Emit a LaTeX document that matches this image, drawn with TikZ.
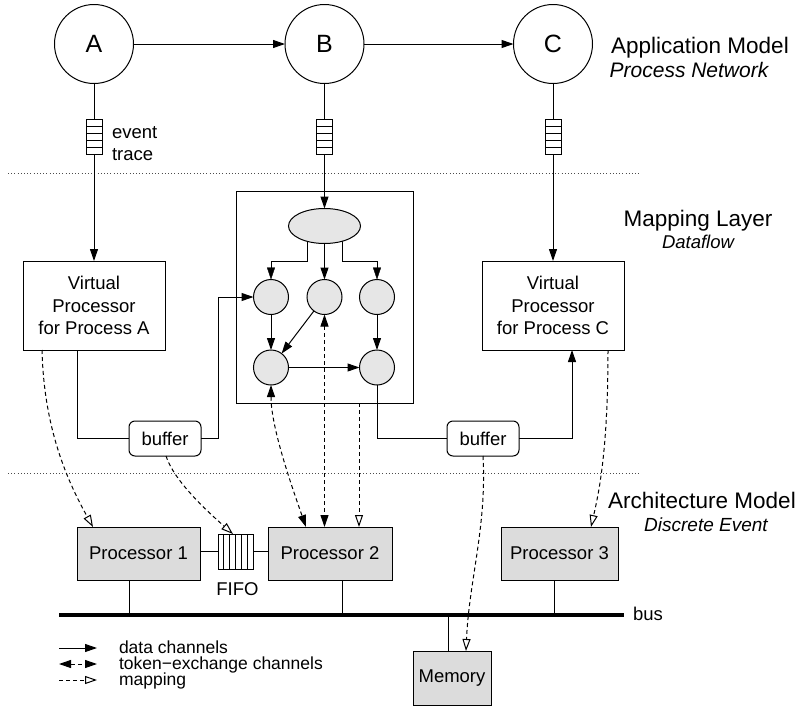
\documentclass[tikz,border=0pt]{standalone}
\usepackage{fontspec}
\setmainfont{Liberation Sans}
\usetikzlibrary{arrows.meta,shapes.geometric,backgrounds}
\definecolor{hwgray}{HTML}{DCDCDC}
\definecolor{actgray}{HTML}{E6E6E6}
\begin{document}
\begin{tikzpicture}[x=1pt,y=-1pt,line width=1pt,
  every node/.style={inner sep=0pt,outer sep=0pt},
  lbl/.style={font=\fontsize{18.5}{22.5}\selectfont},
  leg/.style={font=\fontsize{17.5}{20}\selectfont},
  big/.style={font=\fontsize{22.5}{26}\selectfont},
  proc/.style={circle,draw,fill=white,minimum size=79pt,font=\fontsize{25}{30}\selectfont},
  queue/.style={draw,fill=white,minimum width=16pt,minimum height=35pt,
    path picture={\foreach \i in {1,...,4}{\draw[line width=0.8pt] ([yshift=-\i*7pt]path picture bounding box.north west) -- ([yshift=-\i*7pt]path picture bounding box.north east);}}},
  fifobox/.style={draw,fill=white,minimum width=35pt,minimum height=35pt,
    path picture={\foreach \i in {1,...,5}{\draw[line width=0.8pt] ([xshift=\i*5.8333pt]path picture bounding box.north west) -- ([xshift=\i*5.8333pt]path picture bounding box.south west);}}},
  vp/.style={draw,fill=white,minimum width=142pt,minimum height=89pt,align=center,lbl},
  buf/.style={draw,fill=white,rounded corners=6pt,minimum width=72pt,minimum height=35pt,lbl},
  hw/.style={draw,fill=hwgray,minimum height=53pt,lbl},
  act/.style={circle,draw,fill=actgray,minimum size=35pt},
  dat/.style={-{Triangle[length=12pt,width=8pt]}},
  tok/.style={dash pattern=on 4pt off 3pt,{Triangle[length=12pt,width=8pt]}-{Triangle[length=12pt,width=8pt]}},
  map/.style={dash pattern=on 4pt off 3pt,-{Triangle[open,length=12pt,width=8pt]}},
  layer/.style={black!70,line width=1pt,dash pattern=on 1pt off 2.2pt},
  busline/.style={line width=3.5pt}
]
\begin{scope}[on background layer]
  \fill[white] (0,0) rectangle (807,710);
\end{scope}
\useasboundingbox (0,0) rectangle (807,710);

% layer separators
\coordinate (d1a) at (8,173); \coordinate (d1b) at (640,173);
\coordinate (d2a) at (8,473); \coordinate (d2b) at (640,473);
\draw[layer] (d1a) -- (d1b);
\draw[layer] (d2a) -- (d2b);

% layer titles
\node[big,anchor=base] (appm) at (700,53) {Application Model};
\node[font=\fontsize{21}{24}\selectfont\itshape,anchor=base] (pn) at (689,77) {Process Network};
\node[big,anchor=base] (mapl) at (698,226) {Mapping Layer};
\node[font=\fontsize{18.5}{22}\selectfont\itshape,anchor=base] (df) at (698,248) {Dataflow};
\node[big,anchor=base] (archm) at (702,508) {Architecture Model};
\node[font=\fontsize{19}{22}\selectfont\itshape,anchor=base] (de) at (706,531) {Discrete Event};

% application model
\node[proc] (A) at (94,44) {A};
\node[proc] (B) at (324.5,44) {B};
\node[proc] (C) at (553,44) {C};
\node[queue] (qa) at (94,137) {};
\node[queue] (qb) at (324.5,137) {};
\node[queue] (qc) at (553,137) {};
\node[lbl,anchor=base west] (evt) at (112,138) {event};
\node[lbl,anchor=base west] (trc) at (112,160) {trace};

\draw[dat] (A) -- (B);
\draw[dat] (B) -- (C);

% mapping layer
\node[draw,minimum width=177pt,minimum height=212pt] (mb) at (324.5,297) {};
\node[ellipse,draw,fill=actgray,minimum width=72pt,minimum height=35pt] (el) at (324.5,226) {};
\node[act] (a1) at (271,297) {};
\node[act] (a2) at (324.5,297) {};
\node[act] (a3) at (377,297) {};
\node[act] (a4) at (271,367.5) {};
\node[act] (a5) at (377,367.5) {};
\node[vp] (vpa) at (94,305.5) {Virtual\\Processor\\for Process A};
\node[vp] (vpc) at (553,305.5) {Virtual\\Processor\\for Process C};
\node[buf] (bl) at (165,438.5) {buffer};
\node[buf] (br) at (483,438.5) {buffer};

\draw (A) -- (qa);
\draw[dat] (qa) -- (vpa);
\draw (B) -- (qb);
\draw[dat] (qb) -- (el);
\draw (C) -- (qc);
\draw[dat] (qc) -- (vpc);

\coordinate (k1) at (307,261);
\coordinate (k3) at (342,261);
\begin{scope}[on background layer]
  \draw[dat] (el.center -| k1) -- (k1) -| (a1);
  \draw[dat] (el.center -| k3) -- (k3) -| (a3);
\end{scope}
\draw[dat] (el) -- (a2);
\draw[dat] (a1) -- (a4);
\draw[dat] (a2) -- (a4);
\draw[dat] (a3) -- (a5);
\draw[dat] (a4) -- (a5);

\draw ([xshift=-17pt]vpa.south) |- (bl);
\draw[dat] (bl.east) -- ++(17,0) |- (a1);
\draw (a5) |- (br);
\draw[dat] (br) -| ([xshift=19pt]vpc.south);

% architecture
\node[hw,minimum width=123pt] (p1) at (138.5,553.5) {Processor 1};
\node[hw,minimum width=124pt] (p2) at (330,553.5) {Processor 2};
\node[hw,minimum width=117pt] (p3) at (559.5,553.5) {Processor 3};
\node[hw,minimum width=78pt,minimum height=54pt] (mem) at (452,678) {Memory};
\node[fifobox] (fifo) at (235.5,551.5) {};
\node[lbl,anchor=base] (fifol) at (237.5,595) {FIFO};
\draw (fifo.west) -- (fifo.west -| p1.east);
\draw (fifo.east) -- (fifo.east -| p2.west);

\coordinate (busL) at (59,615);
\coordinate (busR) at (624,615);
\draw[busline] (busL) -- (busR);
\node[lbl,anchor=base west] (buslbl) at (633,620) {bus};
\coordinate (bus1) at (129,615);
\coordinate (bus2) at (342,615);
\coordinate (bus3) at (554,615);
\coordinate (bus4) at (448,615);
\draw (bus1 |- p1.south) -- (bus1);
\draw (bus2 |- p2.south) -- (bus2);
\draw (bus3 |- p3.south) -- (bus3);
\draw (bus4) -- (bus4 |- mem.north);

% mapping relations
\draw[map] ([xshift=-52pt]vpa.south) .. controls +(2,80) and +(-25,-45) .. ([xshift=-45.5pt]p1.north);
\draw[map] ([xshift=1pt]bl.south) .. controls +(8,25) and +(-25,-22) .. ([xshift=-2.5pt]fifo.north);
\draw[map] ([xshift=34.5pt]mb.south) -- ([xshift=29pt]p2.north);
\draw[map] ([xshift=55pt]vpc.south) .. controls +(0,100) and +(8,-35) .. ([xshift=31.5pt]p3.north);
\draw[map] (br.south) .. controls +(4,70) and +(3,-70) .. ([xshift=14pt]mem.north);

% token exchange
\draw[tok] (a4) .. controls +(0,60) and +(-14,-40) .. ([xshift=-24pt]p2.north);
\draw[tok] (a2) -- (a2 |- p2.north);

% legend
\coordinate (l1a) at (59,648); \coordinate (l1b) at (97,648);
\coordinate (l2a) at (59,664); \coordinate (l2b) at (97,664);
\coordinate (l3a) at (59,680); \coordinate (l3b) at (97,680);
\draw[dat] (l1a) -- (l1b);
\draw[tok] (l2a) -- (l2b);
\draw[map] (l3a) -- (l3b);
\node[leg,anchor=base west] (lg1) at (119,653.5) {data channels};
\node[leg,anchor=base west] (lg2) at (119,669.5) {token−exchange channels};
\node[leg,anchor=base west] (lg3) at (119,685.5) {mapping};
\end{tikzpicture}
\end{document}
